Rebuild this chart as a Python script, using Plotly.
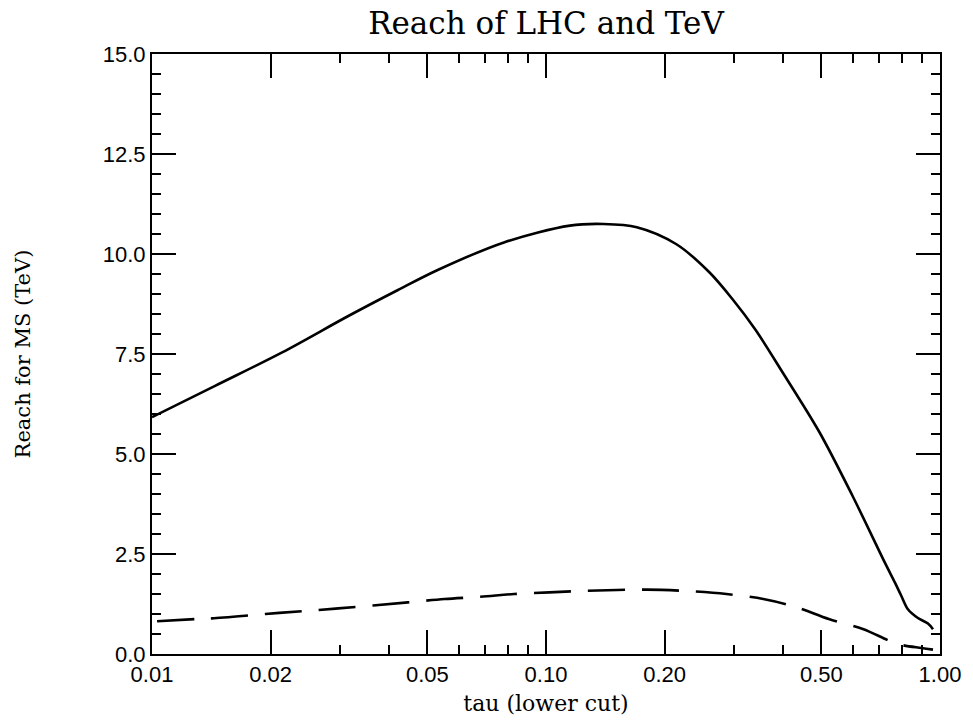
import plotly.graph_objects as go

# LHC (solid) reach vs tau
lhc_tau = [0.01, 0.0145, 0.0214, 0.0315, 0.0421, 0.0531, 0.0782, 0.115, 0.140, 0.170,
           0.2138, 0.2594, 0.2972, 0.3405, 0.398, 0.494, 0.600, 0.724, 0.768,
           0.798, 0.829, 0.879, 0.932, 0.960]
lhc_reach = [5.92, 6.71, 7.54, 8.45, 9.10, 9.60, 10.29, 10.71, 10.75, 10.67,
             10.25, 9.55, 8.875, 8.10, 7.05, 5.55, 3.95, 2.29, 1.79,
             1.45, 1.12, 0.90, 0.76, 0.62]

# TeV (dashed) reach vs tau
tev_tau = [0.0103, 0.0130, 0.0142, 0.0194, 0.0240, 0.0297, 0.0446, 0.0553, 0.0682, 0.083,
           0.102, 0.127, 0.180, 0.228, 0.287, 0.356, 0.431, 0.522, 0.637, 0.781, 0.897, 0.960]
tev_reach = [0.82, 0.875, 0.89, 1.00, 1.07, 1.14, 1.29, 1.375, 1.43, 1.50,
             1.54, 1.58, 1.61, 1.575, 1.50, 1.375, 1.175, 0.875, 0.625, 0.25, 0.15, 0.11]

x_major = [0.01, 0.02, 0.05, 0.1, 0.2, 0.5, 1.0]
x_major_text = ["0.01", "0.02", "0.05", "0.10", "0.20", "0.50", "1.00"]
x_minor = [k * 0.01 for k in range(1, 10)] + [k * 0.1 for k in range(1, 10)] + [1.0]
y_major = [0.0, 2.5, 5.0, 7.5, 10.0, 12.5, 15.0]

serif = "DejaVu Serif"
sans = "Liberation Sans"

fig = go.Figure()
fig.add_trace(go.Scatter(x=lhc_tau, y=lhc_reach, mode="lines",
                         line=dict(color="black", width=2.6, shape="spline", smoothing=0.9),
                         showlegend=False))
fig.add_trace(go.Scatter(x=tev_tau, y=tev_reach, mode="lines",
                         line=dict(color="black", width=2.6, dash="37px,17px",
                                   shape="spline", smoothing=0.9),
                         showlegend=False))

fig.update_layout(
    width=973, height=724,
    margin=dict(l=152, r=27, t=54, b=69),
    paper_bgcolor="white", plot_bgcolor="white",
    title=dict(text="Reach of LHC and TeV", x=0.5, xref="paper", xanchor="center",
               y=1 - 23 / 724, yref="container", yanchor="middle",
               font=dict(family=serif, size=31, color="black")),
    xaxis=dict(type="log", range=[-2, 0], showgrid=False, zeroline=False,
               showline=True, linecolor="black", linewidth=2, mirror="ticks",
               ticks="inside", ticklen=24, tickwidth=1.5, tickcolor="black",
               tickmode="array", tickvals=x_major, ticktext=x_major_text,
               tickfont=dict(family=sans, size=22, color="black"),
               minor=dict(tickmode="array", tickvals=x_minor, ticks="inside",
                          ticklen=9, tickwidth=1.5, tickcolor="black", showgrid=False),
               title=dict(text="tau (lower cut)", standoff=9,
                          font=dict(family=serif, size=22, color="black"))),
    yaxis=dict(range=[0, 15], showgrid=False, zeroline=False,
               showline=True, linecolor="black", linewidth=2, mirror="ticks",
               ticks="inside", ticklen=24, tickwidth=1.5, tickcolor="black",
               tickmode="array", tickvals=y_major, tickformat=".1f",
               tickfont=dict(family=sans, size=22, color="black"),
               minor=dict(dtick=0.5, ticks="inside", ticklen=9, tickwidth=1.5,
                          tickcolor="black", showgrid=False),
               title=dict(text="Reach for MS (TeV)", standoff=66,
                          font=dict(family=serif, size=21, color="black"))),
)

# remove the default 8px page margin so the 973x724 figure fits the window exactly
fig.write_html("out.html", config={"displayModeBar": False},
               post_script="document.body.style.margin='0';")
